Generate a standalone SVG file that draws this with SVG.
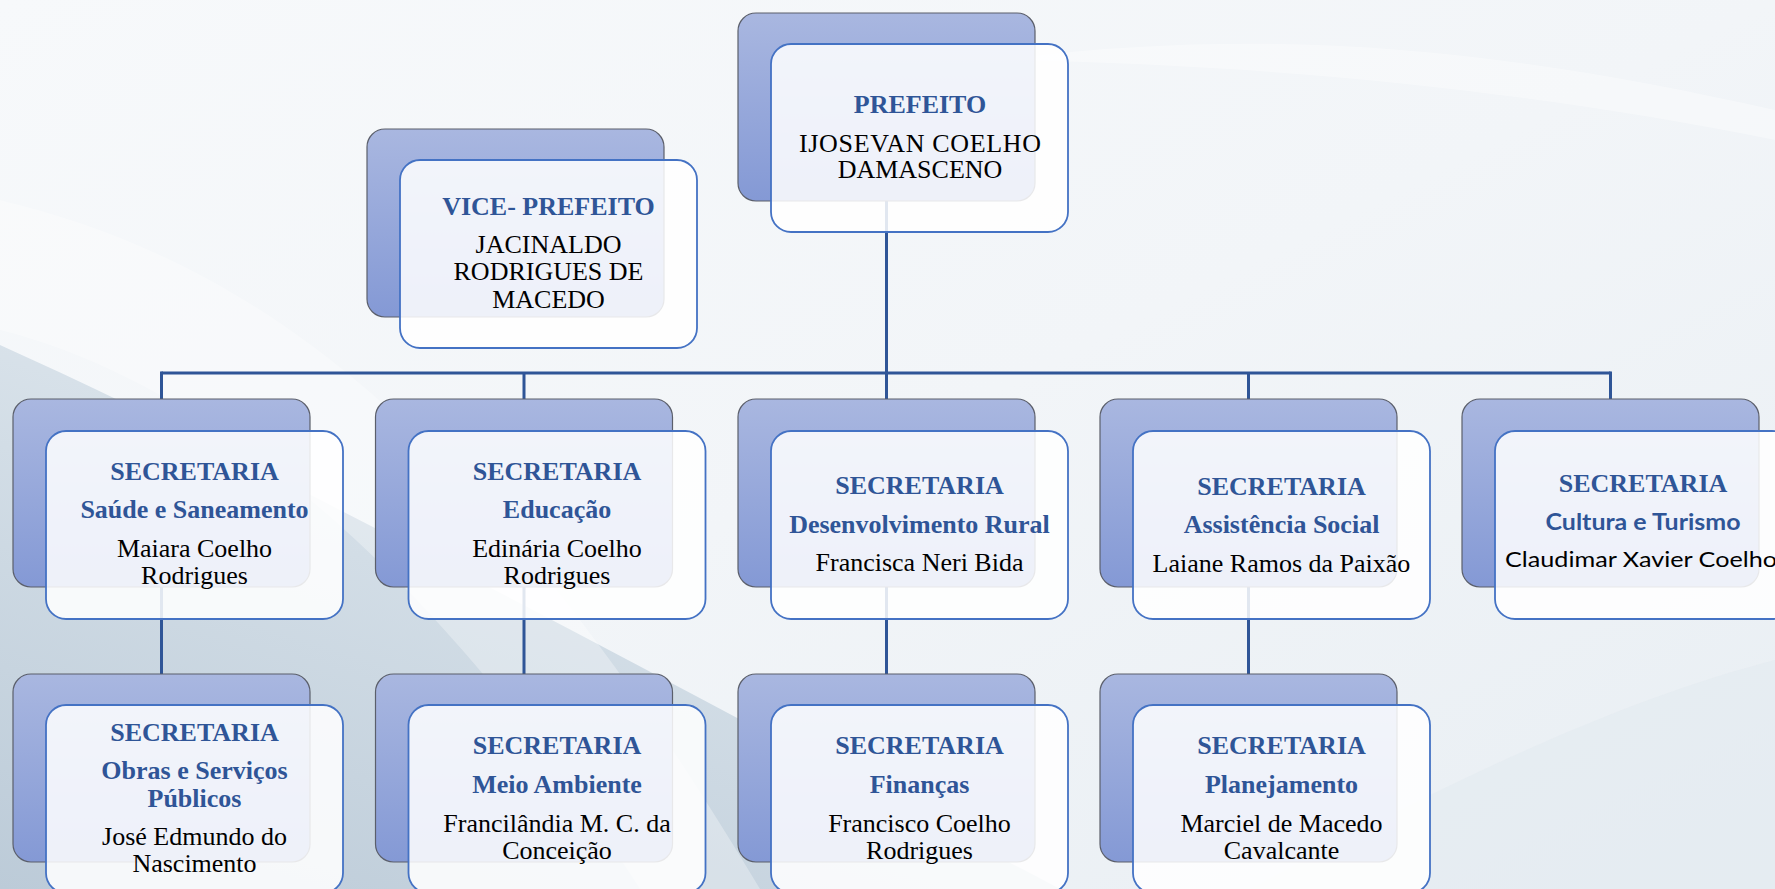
<svg xmlns="http://www.w3.org/2000/svg" width="1775" height="889" viewBox="0 0 1775 889">
<defs>
<linearGradient id="bg" x1="0" y1="0" x2="1" y2="1">
<stop offset="0" stop-color="#F7F9FB"/>
<stop offset="0.5" stop-color="#F2F5F8"/>
<stop offset="1" stop-color="#E8EEF3"/>
</linearGradient>
<linearGradient id="shade" x1="0" y1="1" x2="0.6" y2="0">
<stop offset="0" stop-color="#BCCBD8"/>
<stop offset="0.6" stop-color="#D2DDE6"/>
<stop offset="1" stop-color="#E3EAF0"/>
</linearGradient>
<linearGradient id="back" x1="0" y1="0" x2="0" y2="1">
<stop offset="0" stop-color="#A9B7E0"/>
<stop offset="1" stop-color="#8499D5"/>
</linearGradient>
<style>
.bk{fill:url(#back);stroke:#5B5F6B;stroke-width:1.2}
.fr{fill:#FFFFFF;fill-opacity:0.86;stroke:#4472C4;stroke-width:1.8}
.ln{stroke:#2F5597;stroke-width:3;fill:none}
.t{font-family:"Liberation Serif","Times New Roman",serif;font-weight:bold;font-size:26px;fill:#2F5597;text-anchor:middle}
.n{font-family:"Liberation Serif","Times New Roman",serif;font-size:26px;fill:#000;text-anchor:middle}
.ts{font-family:Lato,"Liberation Sans",sans-serif;font-weight:bold;font-size:22px;fill:#2F5597;text-anchor:middle}
.ns{font-family:Lato,"Liberation Sans",sans-serif;font-size:22px;fill:#000;text-anchor:middle}
</style>
</defs>
<g id="background">
<rect x="0" y="0" width="1775" height="889" fill="url(#bg)"/>
<path d="M0,345 C300,480 700,700 1060,889 L0,889 Z" fill="url(#shade)"/>
<path d="M0,200 C250,260 480,420 760,889 L640,889 C430,560 200,380 0,330 Z" fill="#FFFFFF" opacity="0.3"/>
<path d="M1250,889 C1450,780 1620,700 1775,660 L1775,889 Z" fill="#E2E9EF" opacity="0.5"/>
<path d="M1000,60 C1300,20 1550,60 1775,110 L1775,140 C1550,95 1300,65 1000,60 Z" fill="#FFFFFF" opacity="0.35"/>
</g>
<g id="connectors">
<line class="ln" x1="886.5" y1="200" x2="886.5" y2="373"/>
<line class="ln" x1="161.5" y1="373" x2="1610.5" y2="373"/>
<line class="ln" x1="161.5" y1="371.5" x2="161.5" y2="400"/>
<line class="ln" x1="524" y1="373" x2="524" y2="400"/>
<line class="ln" x1="886.5" y1="373" x2="886.5" y2="400"/>
<line class="ln" x1="1248.5" y1="373" x2="1248.5" y2="400"/>
<line class="ln" x1="1610.5" y1="371.5" x2="1610.5" y2="400"/>
<line class="ln" x1="161.5" y1="587" x2="161.5" y2="675"/>
<line class="ln" x1="524" y1="587" x2="524" y2="675"/>
<line class="ln" x1="886.5" y1="587" x2="886.5" y2="675"/>
<line class="ln" x1="1248.5" y1="587" x2="1248.5" y2="675"/>
</g>
<g id="prefeito">
<rect class="bk" x="738" y="13" width="297" height="188" rx="18"/>
<rect class="fr" x="771" y="44" width="297" height="188" rx="20"/>
<text class="t" x="920" y="113">PREFEITO</text>
<text class="n" x="920" y="152" textLength="242" lengthAdjust="spacing">IJOSEVAN COELHO</text>
<text class="n" x="920" y="178">DAMASCENO</text>
</g>
<g id="vice-prefeito">
<rect class="bk" x="367" y="129" width="297" height="188" rx="18"/>
<rect class="fr" x="400" y="160" width="297" height="188" rx="20"/>
<text class="t" x="548.5" y="215">VICE- PREFEITO</text>
<text class="n" x="548.5" y="253">JACINALDO</text>
<text class="n" x="548.5" y="280">RODRIGUES DE</text>
<text class="n" x="548.5" y="308">MACEDO</text>
</g>
<g id="saude">
<rect class="bk" x="13" y="399" width="297" height="188" rx="18"/>
<rect class="fr" x="46" y="431" width="297" height="188" rx="20"/>
<text class="t" x="194.5" y="480">SECRETARIA</text>
<text class="t" x="194.5" y="518">Saúde e Saneamento</text>
<text class="n" x="194.5" y="557">Maiara Coelho</text>
<text class="n" x="194.5" y="584">Rodrigues</text>
</g>
<g id="educacao">
<rect class="bk" x="375.5" y="399" width="297" height="188" rx="18"/>
<rect class="fr" x="408.5" y="431" width="297" height="188" rx="20"/>
<text class="t" x="557" y="480">SECRETARIA</text>
<text class="t" x="557" y="518">Educação</text>
<text class="n" x="557" y="557">Edinária Coelho</text>
<text class="n" x="557" y="584">Rodrigues</text>
</g>
<g id="desenvolvimento-rural">
<rect class="bk" x="738" y="399" width="297" height="188" rx="18"/>
<rect class="fr" x="771" y="431" width="297" height="188" rx="20"/>
<text class="t" x="919.5" y="494">SECRETARIA</text>
<text class="t" x="919.5" y="533">Desenvolvimento Rural</text>
<text class="n" x="919.5" y="571">Francisca Neri Bida</text>
</g>
<g id="assistencia-social">
<rect class="bk" x="1100" y="399" width="297" height="188" rx="18"/>
<rect class="fr" x="1133" y="431" width="297" height="188" rx="20"/>
<text class="t" x="1281.5" y="495">SECRETARIA</text>
<text class="t" x="1281.5" y="533">Assistência Social</text>
<text class="n" x="1281.5" y="572">Laiane Ramos da Paixão</text>
</g>
<g id="cultura-turismo">
<rect class="bk" x="1462" y="399" width="297" height="188" rx="18"/>
<rect class="fr" x="1495" y="431" width="297" height="188" rx="20"/>
<text class="t" x="1643" y="492">SECRETARIA</text>
<text class="ts" x="1643" y="530" textLength="195" lengthAdjust="spacingAndGlyphs">Cultura e Turismo</text>
<text class="ns" x="1641" y="567" textLength="272" lengthAdjust="spacingAndGlyphs">Claudimar Xavier Coelho</text>
</g>
<g id="obras">
<rect class="bk" x="13" y="674" width="297" height="188" rx="18"/>
<rect class="fr" x="46" y="705" width="297" height="188" rx="20"/>
<text class="t" x="194.5" y="741">SECRETARIA</text>
<text class="t" x="194.5" y="779">Obras e Serviços</text>
<text class="t" x="194.5" y="807">Públicos</text>
<text class="n" x="194.5" y="845">José Edmundo do</text>
<text class="n" x="194.5" y="872">Nascimento</text>
</g>
<g id="meio-ambiente">
<rect class="bk" x="375.5" y="674" width="297" height="188" rx="18"/>
<rect class="fr" x="408.5" y="705" width="297" height="188" rx="20"/>
<text class="t" x="557" y="754">SECRETARIA</text>
<text class="t" x="557" y="793">Meio Ambiente</text>
<text class="n" x="557" y="832">Francilândia M. C. da</text>
<text class="n" x="557" y="859">Conceição</text>
</g>
<g id="financas">
<rect class="bk" x="738" y="674" width="297" height="188" rx="18"/>
<rect class="fr" x="771" y="705" width="297" height="188" rx="20"/>
<text class="t" x="919.5" y="754">SECRETARIA</text>
<text class="t" x="919.5" y="793">Finanças</text>
<text class="n" x="919.5" y="832">Francisco Coelho</text>
<text class="n" x="919.5" y="859">Rodrigues</text>
</g>
<g id="planejamento">
<rect class="bk" x="1100" y="674" width="297" height="188" rx="18"/>
<rect class="fr" x="1133" y="705" width="297" height="188" rx="20"/>
<text class="t" x="1281.5" y="754">SECRETARIA</text>
<text class="t" x="1281.5" y="793">Planejamento</text>
<text class="n" x="1281.5" y="832">Marciel de Macedo</text>
<text class="n" x="1281.5" y="859">Cavalcante</text>
</g>
</svg>
